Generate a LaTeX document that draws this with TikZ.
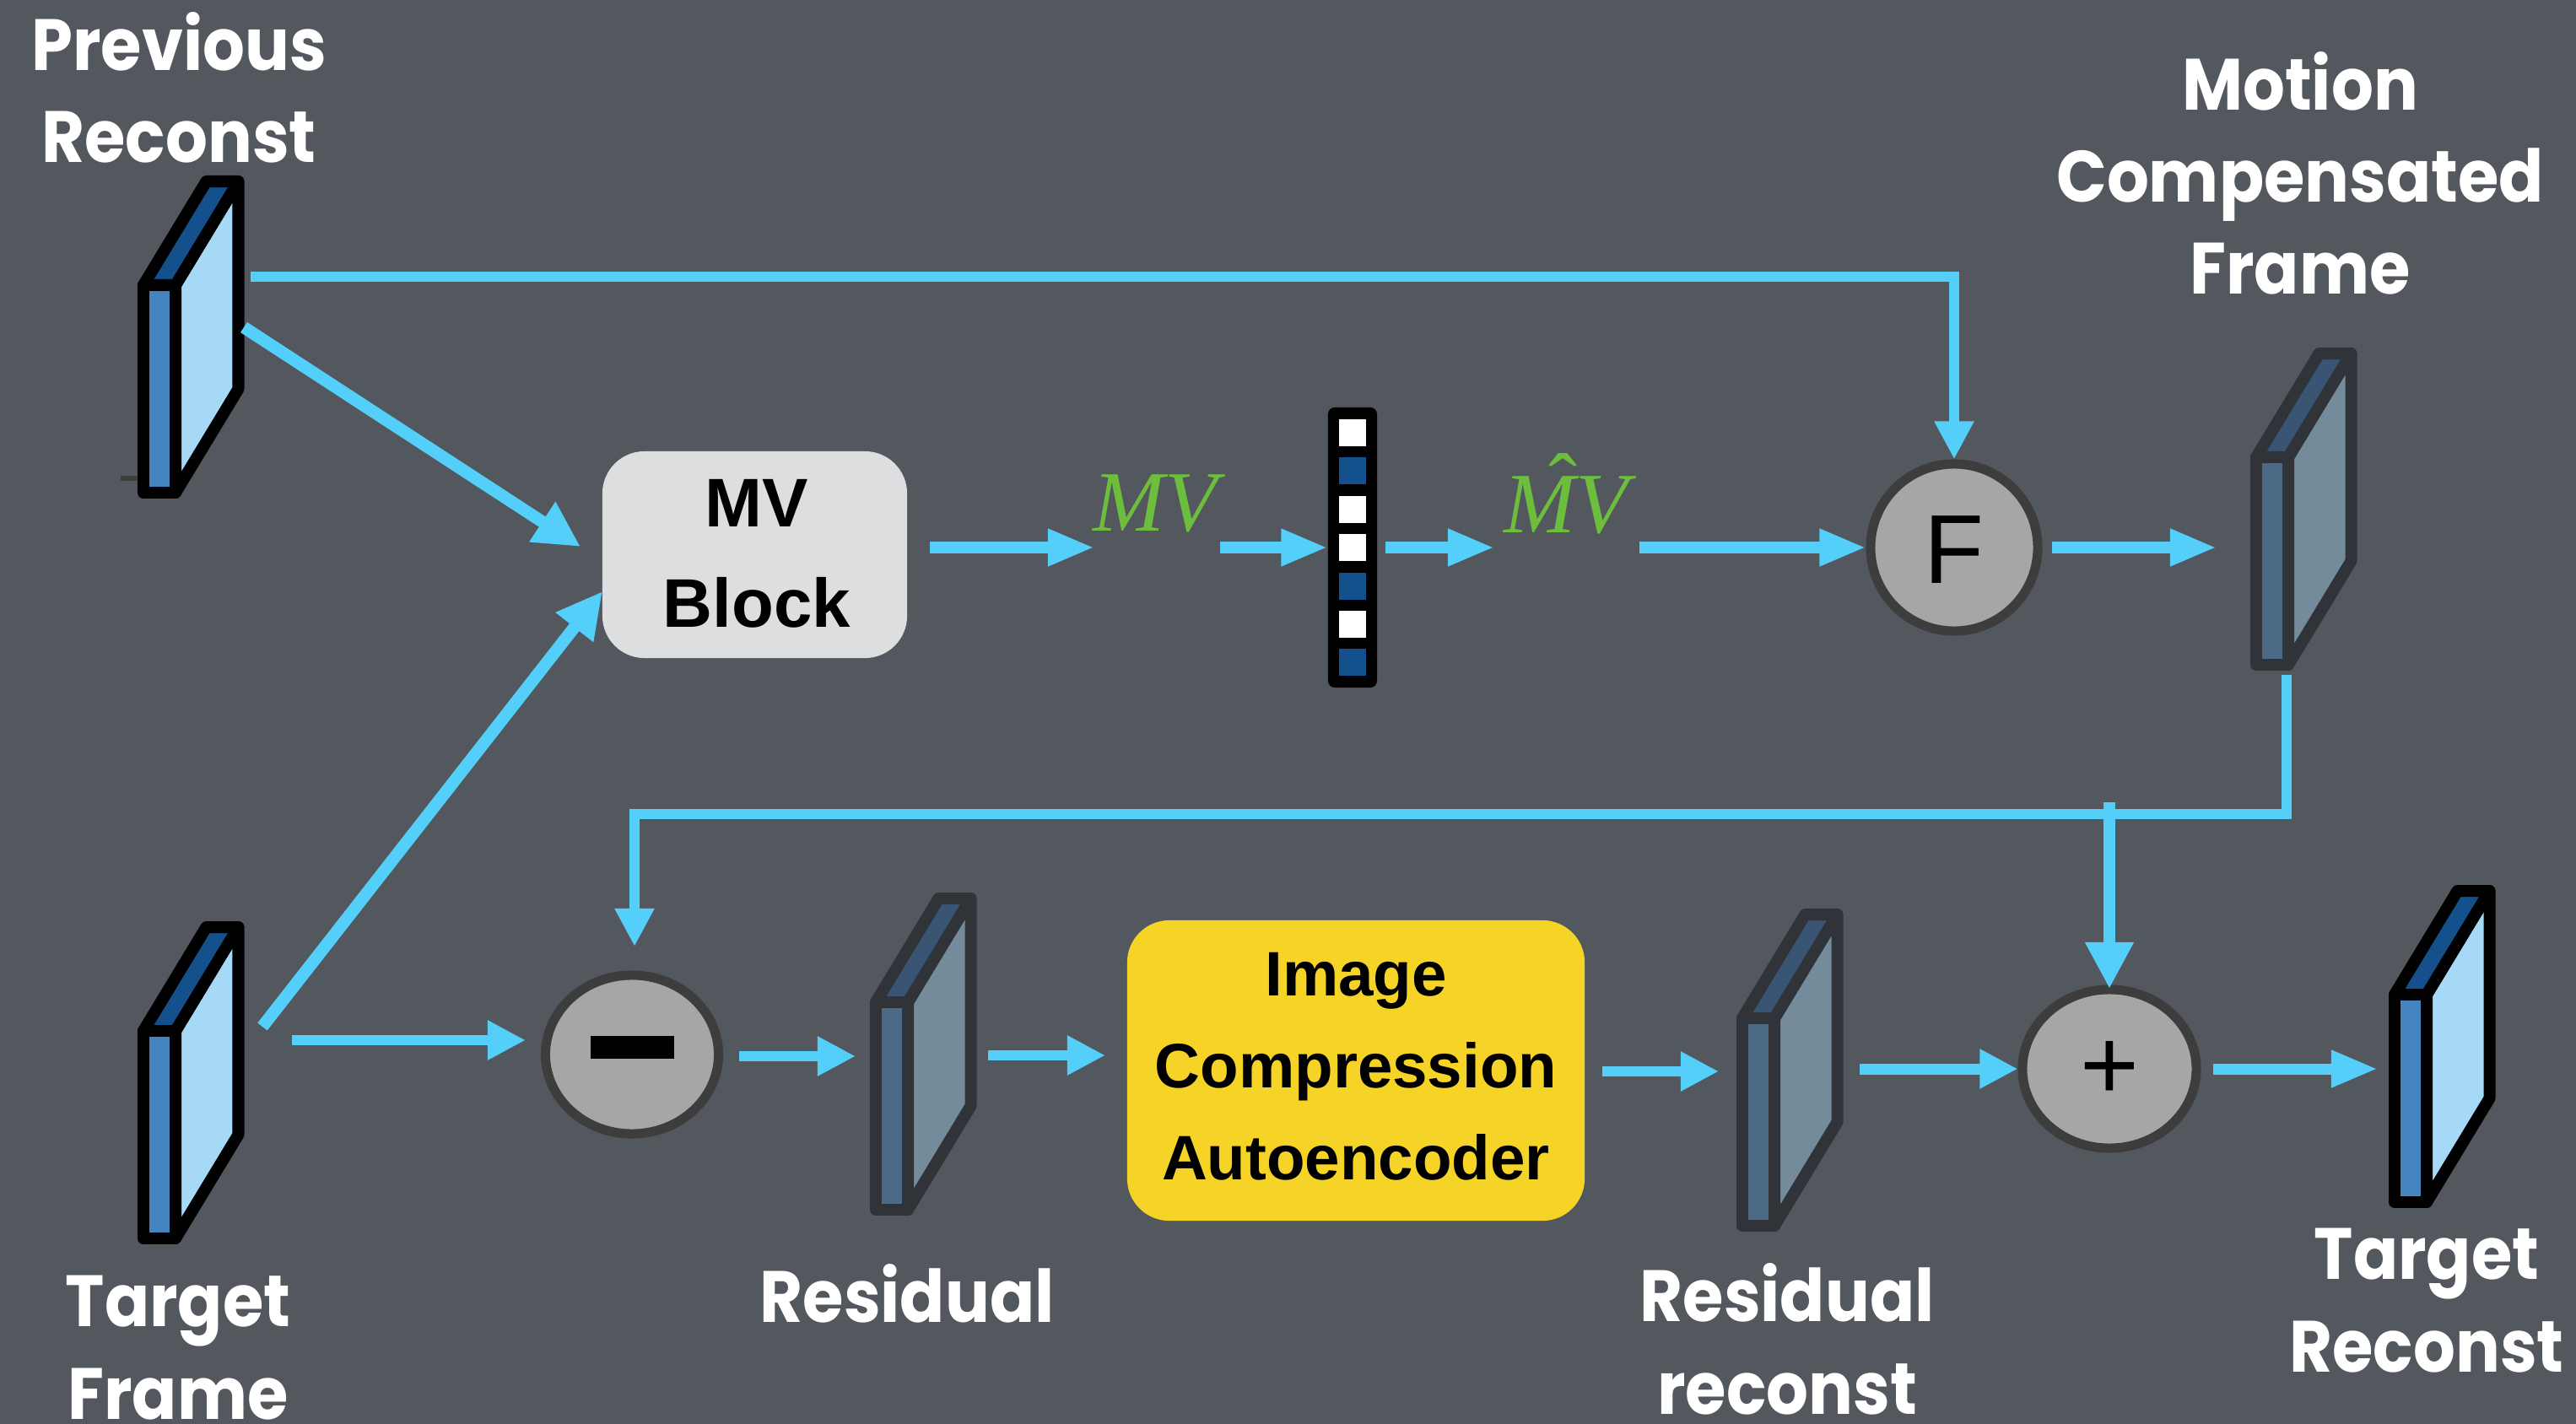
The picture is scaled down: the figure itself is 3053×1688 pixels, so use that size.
\documentclass[tikz,border=0pt]{standalone}
\usepackage{fontspec}
\setmainfont{Poppins}[FakeStretch=0.91]
\newfontfamily\helvfont{Liberation Sans}
\newfontfamily\timesfont{Liberation Serif}
\usetikzlibrary{
		arrows.meta,
		shapes.geometric
	}
\definecolor{slatebg}{HTML}{53575E}
\definecolor{flowblue}{HTML}{54CFFA}
\definecolor{mvgreen}{HTML}{6DBE3C}
\definecolor{circlefill}{HTML}{A5A7A6}
\definecolor{circleedge}{HTML}{3D3D3D}
\definecolor{mvgrey}{HTML}{DDDEE0}
\definecolor{aeyellow}{HTML}{F5D327}
\definecolor{cellblue}{HTML}{14508C}
\definecolor{brightedge}{HTML}{000000}
\definecolor{brightfront}{HTML}{4485BF}
\definecolor{brightside}{HTML}{A6D9F6}
\definecolor{brighttop}{HTML}{14508C}
\definecolor{dimedge}{HTML}{303338}
\definecolor{dimfront}{HTML}{4C6A85}
\definecolor{dimside}{HTML}{748B9C}
\definecolor{dimtop}{HTML}{3A5573}
\tikzset{
		flow/.style={draw=flowblue,line width=.13cm,-{Triangle[length=.55cm,width=.41cm]}},
		flowsmall/.style={draw=flowblue,line width=.115cm,-{Triangle[length=.45cm,width=.44cm]}},
		flowdiag/.style={draw=flowblue,line width=.145cm,-{Triangle[length=.54cm,width=.53cm]}},
		opcircle/.style={ellipse,draw=circleedge,fill=circlefill,line width=.11cm,inner sep=0pt},
		softbox/.style={rectangle,rounded corners=.5cm,inner sep=0pt},
		caption/.style={text=white,align=center,inner sep=0pt,anchor=base,font=\fontsize{24.5}{31}\selectfont\bfseries},
		boxtext/.style={text=black,inner sep=0pt,anchor=base,align=center,font=\helvfont\bfseries\fontsize{21.2}{30.9}\selectfont},
		mvtext/.style={text=mvgreen,anchor=base,inner sep=0pt,font=\timesfont\itshape\fontsize{29}{29}\selectfont}
	}
% one frame: palette, top left corner of the front face
\newcommand{\frameblock}[2]{
	\begin{scope}[shift={(#2)},line width=.14cm,line join=round,draw=#1edge]
		\draw[fill=#1side] (38,0) -- (112.5,-123) -- (112.5,123) -- (38,246) -- cycle;
		\draw[fill=#1top] (0,0) -- (74.5,-123) -- (112.5,-123) -- (38,0) -- cycle;
		\draw[fill=#1front] (0,0) rectangle (38,246);
	\end{scope}
}

\begin{document}
\begin{tikzpicture}[x=.01cm,y=-.01cm]
	\useasboundingbox (0,0) rectangle (3053,1688);
	\fill[slatebg] (0,0) rectangle (3053,1688);

	% free ends of the arrows
	\coordinate (prevTop) at (297,328);
	\coordinate (prevDiag) at (289,388);
	\coordinate (prevTip) at (688,648);
	\coordinate (targetDiag) at (311,1217);
	\coordinate (targetTip) at (714,701);
	\coordinate (fCorner) at (2316,328);
	\coordinate (targetOut) at (346,1233);
	\coordinate (minusIn) at (623,1233);
	\coordinate (minusOut) at (876,1252);
	\coordinate (residualIn) at (1014,1252);
	\coordinate (residualOut) at (1171,1251);
	\coordinate (aeIn) at (1310,1251);
	\coordinate (aeOut) at (1899,1270);
	\coordinate (recoIn) at (2037,1270);
	\coordinate (recoOut) at (2204,1267);
	\coordinate (plusOut) at (2623,1267);
	\coordinate (finalIn) at (2818,1267);
	\coordinate (mvOut) at (1102,649);
	\coordinate (mvIn) at (1297,649);
	\coordinate (textOut) at (1446,649);
	\coordinate (barOut) at (1642,649);
	\coordinate (hatIn) at (1771,649);
	\coordinate (hatOut) at (1943,649);
	\coordinate (fOut) at (2432,649);
	\coordinate (motionIn) at (2627,649);
	\coordinate (motionDown) at (2710,800);
	\coordinate (motionCorner) at (2710,965);
	\coordinate (minusCorner) at (752,965);
	\coordinate (minusTip) at (752,1122);
	\coordinate (plusTop) at (2500,951);
	\coordinate (plusTip) at (2500,1172);

	% frames
	\frameblock{bright}{170,338}
	\frameblock{bright}{170,1222}
	\frameblock{dim}{2674,542}
	\frameblock{dim}{1038,1188}
	\frameblock{dim}{2065,1207}
	\frameblock{bright}{2838,1179}
	\fill[circleedge] (143,564) rectangle (163,570);

	% blocks
	\node[softbox,fill=mvgrey,minimum width=3.61cm,minimum height=2.45cm] (mvBlock) at (894.5,657.5) {};
	\node[boxtext,font=\helvfont\bfseries\fontsize{23.2}{33.6}\selectfont] (mvBlockText) at (897,743) {MV\\Block};
	\node[softbox,fill=aeyellow,minimum width=5.42cm,minimum height=3.56cm] (aeBlock) at (1607,1269) {};
	\node[boxtext] (aeBlockText) at (1607,1398) {Image\\Compression\\Autoencoder};

	\node[opcircle,minimum width=1.98cm,minimum height=1.98cm] (fCircle) at (2316,649) {};
	\node[opcircle,minimum width=2.05cm,minimum height=1.88cm] (minusCircle) at (749,1250) {};
	\node[opcircle,minimum width=2.06cm,minimum height=1.88cm] (plusCircle) at (2500,1267) {};
	\node[font=\helvfont\fontsize{33}{33}\selectfont,text=black,inner sep=0pt] (fMark) at (2316,652) {F};
	\fill[black] (700,1228) rectangle (799,1255);
	\node[font=\helvfont\fontsize{34}{34}\selectfont,text=black,inner sep=0pt] (plusMark) at (2500,1269) {+};

	% code bar
	\node[rectangle,fill=black,rounded corners=.08cm,minimum width=.58cm,minimum height=3.32cm,inner sep=0pt] (codeBar) at (1603,649) {};
	\foreach \row/\cell in {0/white,1/cellblue,2/white,3/white,4/cellblue,5/white,6/cellblue}{
		\fill[\cell] (1587,497+45.4*\row) rectangle (1619,529+45.4*\row);
	}

	% green labels
	\node[mvtext] (mvText) at (1369,629) {MV};
	\node[mvtext] (mvHatText) at (1856,631) {MV};
	\node[mvtext,font=\timesfont\fontsize{29}{29}\selectfont] (hatMark) at (1852,608) {^^^^02c6};

	% captions
	\node[caption] (prevLabel) at (212,193) {Previous\\Reconst};
	\node[caption] (motionLabel) at (2726,349) {Motion\\Compensated\\Frame};
	\node[caption] (targetLabel) at (211,1682) {Target\\Frame};
	\node[caption] (residualLabel) at (1075,1567) {Residual};
	\node[caption] (recoLabel) at (2118,1676) {Residual\\reconst};
	\node[caption] (finalLabel) at (2876,1626) {Target\\Reconst};

	% arrows
	\draw[flowsmall] (prevTop) -- (fCorner) -- (fCircle.north);
	\draw[flowdiag] (prevDiag) -- (prevTip);
	\draw[flowdiag] (targetDiag) -- (targetTip);
	\draw[flow] (mvOut) -- (mvIn);
	\draw[flow] (textOut) -- (codeBar.west);
	\draw[flow] (barOut) -- (hatIn);
	\draw[flow] (hatOut) -- (fCircle.west);
	\draw[flow] (fOut) -- (motionIn);
	\draw[flowsmall] (motionDown) -- (motionCorner) -- (minusCorner) -- (minusTip);
	\draw[flow,line width=.135cm,-{Triangle[length=.55cm,width=.54cm]}] (plusTop) -- (plusTip);
	\draw[flowsmall] (targetOut) -- (minusIn);
	\draw[flowsmall] (minusOut) -- (residualIn);
	\draw[flowsmall] (residualOut) -- (aeIn);
	\draw[flowsmall] (aeOut) -- (recoIn);
	\draw[flow,-{Triangle[length=.45cm,width=.44cm]}] (recoOut) -- (plusCircle.west);
	\draw[flow] (plusOut) -- (finalIn);
\end{tikzpicture}
\end{document}
